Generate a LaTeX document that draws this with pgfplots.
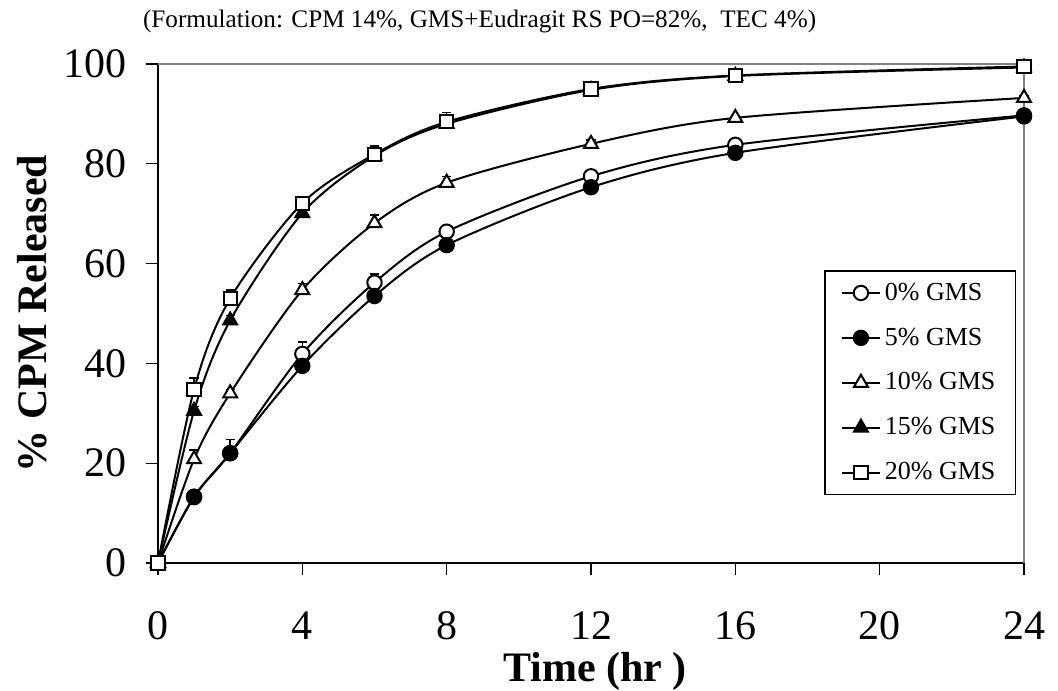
\documentclass[border=0pt]{standalone}
\usepackage{pgfplots}
\pgfplotsset{compat=1.18}
\usepackage{fontspec}
\setmainfont{Liberation Serif}

\begin{document}
\begin{tikzpicture}
\useasboundingbox (-79pt,-63.5pt) rectangle (450pt,281.5pt);
\begin{axis}[
    at={(0,0)}, anchor=south west,
    scale only axis, width=433pt, height=249.5pt,
    xmin=0, xmax=24, ymin=0, ymax=100,
    xtick={0,4,...,24}, ytick={0,20,...,100},
    axis x line*=bottom, axis y line*=left,
    axis line style={-, line width=0.8pt},
    tick align=outside, major tick length=6pt,
    tick style={black, line width=0.6pt},
    clip=false,
    /pgf/number format/assume math mode=true,
    tick label style={font=\fontsize{21}{21}\selectfont},
    xticklabel style={yshift=-14.5pt, text height=14pt, text depth=0pt},
    yticklabel style={xshift=-6pt},
    every axis x label/.style={at={(axis description cs:0.5,0)}, yshift=-54pt, xshift=2pt, anchor=center},
    every axis y label/.style={at={(axis description cs:0,0.5)}, xshift=-63pt, rotate=90, anchor=center},
    xlabel={\fontsize{21}{21}\selectfont\bfseries Time (hr )},
    ylabel={\fontsize{21}{21}\selectfont\bfseries \% CPM Released},
    title={(Formulation: CPM 14\%, GMS+Eudragit RS PO=82\%,\ \ TEC 4\%)},
    title style={at={(axis description cs:0,1)}, anchor=base west, xshift=-11pt, yshift=12pt, font=\fontsize{12.6}{12.6}\selectfont},
    every axis plot/.append style={black, line width=1pt, smooth, tension=0.5},
    error bars/y dir=plus, error bars/y explicit,
    error bars/error bar style={black, line width=0.75pt},
    error bars/error mark options={black, line width=0.75pt, mark size=2.3pt, rotate=90},
    legend style={at={(0.991,0.587)}, anchor=north east, draw=black, line width=0.75pt,
        font=\fontsize{13}{13}\selectfont, inner xsep=8pt, inner ysep=4pt, row sep=8.3pt},
    legend cell align=left,
    legend image code/.code={\draw[mark repeat=2,mark phase=2] plot coordinates {(0pt,0pt)(9.5pt,0pt)(19pt,0pt)};},
]
\draw[gray, line width=0.8pt] (rel axis cs:0,1) -- (rel axis cs:1,1) -- (rel axis cs:1,0);

% 0% GMS
\addplot[mark=*, mark size=3.6pt, mark options={fill=white, solid}] coordinates {
    (0,0) +- (0,0) (1,13.3) +- (0,0.6) (2,22.0) +- (0,2.8) (4,41.9) +- (0,2.4)
    (6,56.2) +- (0,1.7) (8,66.4) +- (0,0.6) (12,77.5) +- (0,0.5) (16,83.8) +- (0,0.5) (24,89.7) +- (0,0.8)};
\addlegendentry{0\% GMS}

% 5% GMS
\addplot[mark=*, mark size=3.6pt, mark options={fill=black, solid}] coordinates {
    (0,0) +- (0,0) (1,13.2) +- (0,0) (2,22.0) +- (0,0) (4,39.5) +- (0,0)
    (6,53.5) +- (0,0) (8,63.7) +- (0,0) (12,75.3) +- (0,0) (16,82.2) +- (0,0) (24,89.5) +- (0,0)};
\addlegendentry{5\% GMS}

% 10% GMS
\addplot[mark=triangle*, mark size=4pt, mark options={fill=white, solid}] coordinates {
    (0,0) +- (0,0) (1,20.8) +- (0,1.8) (2,34.0) +- (0,0.8) (4,54.7) +- (0,1.3)
    (6,68.1) +- (0,1.6) (8,76.2) +- (0,1.3) (12,84.0) +- (0,0.8) (16,89.2) +- (0,0.5) (24,93.2) +- (0,0.5)};
\addlegendentry{10\% GMS}

% 15% GMS
\addplot[mark=triangle*, mark size=4pt, mark options={fill=black, solid}] coordinates {
    (0,0) +- (0,0) (1,30.5) +- (0,0.9) (2,48.6) +- (0,1.0) (4,70.1) +- (0,0.8)
    (6,81.6) +- (0,0.8) (8,88.0) +- (0,0.8) (12,94.8) +- (0,0.8) (16,97.6) +- (0,0.5) (24,99.3) +- (0,0.5)};
\addlegendentry{15\% GMS}

% 20% GMS
\addplot[mark=square*, mark size=3.3pt, mark options={fill=white, solid}] coordinates {
    (0,0) +- (0,0) (1,34.8) +- (0,2.3) (2,53.0) +- (0,1.7) (4,72.1) +- (0,0.6)
    (6,81.9) +- (0,1.7) (8,88.4) +- (0,1.9) (12,95.0) +- (0,1.5) (16,97.7) +- (0,0.8) (24,99.5) +- (0,0.3)};
\addlegendentry{20\% GMS}
\end{axis}
\end{tikzpicture}
\end{document}
